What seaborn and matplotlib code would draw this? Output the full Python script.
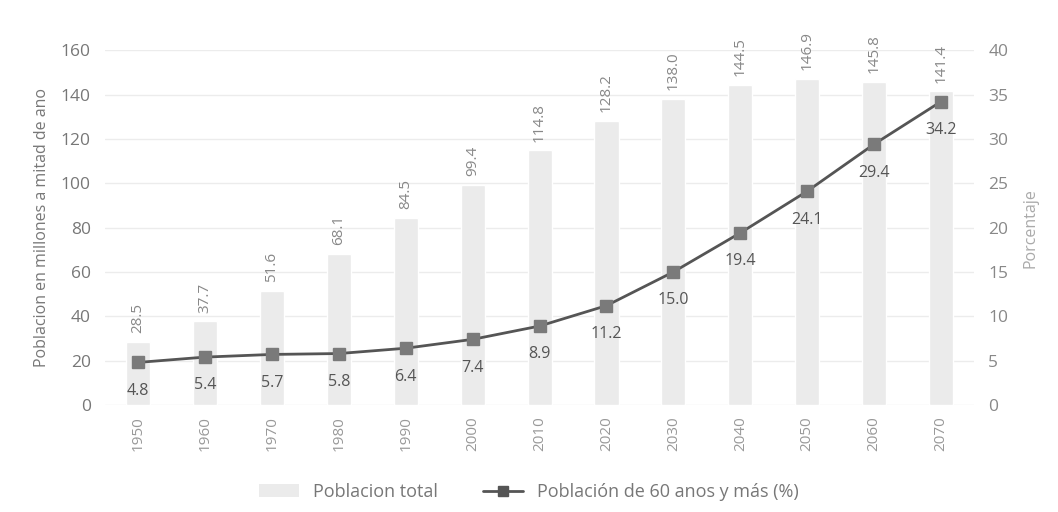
import numpy as np
import matplotlib
matplotlib.use("Agg")
import matplotlib.pyplot as plt
import pandas as pd
import seaborn as sns
from matplotlib.lines import Line2D
from matplotlib.patches import Patch

years = ['1950', '1960', '1970', '1980', '1990', '2000', '2010',
         '2020', '2030', '2040', '2050', '2060', '2070']
pob_total = [28.5, 37.7, 51.6, 68.1, 84.5, 99.4, 114.8,
             128.2, 138.0, 144.5, 146.9, 145.8, 141.4]
pob_60 = [4.8, 5.4, 5.7, 5.8, 6.4, 7.4, 8.9,
          11.2, 15.0, 19.4, 24.1, 29.4, 34.2]

df = pd.DataFrame({'year': years, 'total': pob_total, 'pct': pob_60})

sns.set_style('white')
plt.rcParams['font.family'] = ['Open Sans', 'DejaVu Sans']

fig = plt.figure(figsize=(10.58, 5.12), dpi=100)
ax = fig.add_axes([0.099, 0.209, 0.822, 0.693])

# Barras: poblacion total
sns.barplot(data=df, x='year', y='total', color='#ebebeb', width=0.36,
            ax=ax, zorder=2)
ax.set_ylim(0, 160)
ax.set_xlim(-0.5, 12.5)
ax.set_yticks(range(0, 161, 20))
ax.grid(axis='y', color='#ececec', linewidth=1, zorder=0)
ax.set_axisbelow(True)
for s in ax.spines.values():
    s.set_visible(False)
ax.tick_params(axis='y', colors='#777777', labelsize=12.5, length=0, pad=10)
ax.tick_params(axis='x', colors='#999999', labelsize=11, length=0,
               rotation=90, pad=8)
ax.set_xlabel('')
ax.set_ylabel('Poblacion en millones a mitad de ano', color='#777777',
              fontsize=11.5, labelpad=8)

for i, v in enumerate(pob_total):
    ax.text(i, v + 4, f'{v:.1f}', rotation=90, ha='center', va='bottom',
            color='#888888', fontsize=11, clip_on=False)

# Linea: porcentaje de 60 anos y mas
ax2 = ax.twinx()
ax2.plot(range(len(years)), pob_60, color='#555555', linewidth=2,
         marker='s', markersize=8, markerfacecolor='#7a7a7a',
         markeredgecolor='#7a7a7a', zorder=5)
ax2.set_ylim(0, 40)
ax2.set_yticks(range(0, 41, 5))
for s in ax2.spines.values():
    s.set_visible(False)
ax2.tick_params(axis='y', colors='#888888', labelsize=12.5, length=0, pad=10)
ax2.set_ylabel('Porcentaje', color='#aaaaaa', fontsize=11.5, labelpad=10)
ax2.grid(False)

for i, v in enumerate(pob_60):
    ax2.text(i, v - 2.3, f'{v:.1f}', ha='center', va='top',
             color='#555555', fontsize=11.5)

handles = [Patch(facecolor='#ebebeb', edgecolor='none'),
           Line2D([0], [0], color='#555555', linewidth=2, marker='s',
                  markersize=7, markerfacecolor='#555555')]
fig.legend(handles, ['Poblacion total', 'Población de 60 anos y más (%)'],
           loc='lower center', bbox_to_anchor=(0.5, -0.01), ncol=2,
           frameon=False, fontsize=13, labelcolor='#777777',
           handlelength=2.2, columnspacing=2.5)

fig.savefig('out.png', dpi=100)
